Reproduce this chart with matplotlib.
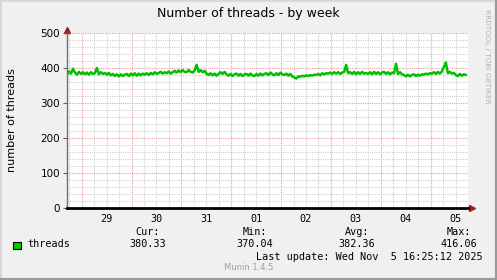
"""
Munin style weekly graph: number of threads
"""
import matplotlib
matplotlib.use("Agg")
import matplotlib.pyplot as plt
from matplotlib.lines import Line2D
import numpy as np

# Series, one sample every ~58 minutes
# first sample at 28 Oct ~16:57 (days relative to 29 Oct 00:00)
START_DAY = -0.294
STEP_DAY = 0.04
threads = [
    382, 390, 384, 398, 387, 381, 389, 383, 388, 382,
    387, 381, 388, 383, 386, 400, 382, 388, 383, 386,
    381, 386, 379, 383, 377, 382, 376, 382, 377, 381,
    383, 377, 384, 379, 385, 378, 384, 379, 384, 381,
    385, 380, 386, 382, 388, 383, 386, 389, 384, 388,
    385, 390, 384, 388, 392, 387, 393, 388, 394, 389,
    388, 394, 389, 387, 393, 409, 389, 394, 388, 392,
    384, 380, 385, 379, 384, 378, 383, 388, 383, 389,
    382, 378, 383, 377, 382, 384, 378, 383, 377, 382,
    383, 378, 384, 379, 377, 383, 378, 384, 379, 383,
    385, 380, 387, 382, 379, 385, 380, 387, 382, 380,
    384, 378, 383, 376, 373, 370, 376, 375, 378, 376,
    379, 377, 380, 378, 381, 380, 383, 379, 385, 382,
    385, 384, 387, 383, 388, 384, 388, 383, 387, 389,
    409, 385, 388, 383, 389, 382, 388, 383, 389, 384,
    386, 383, 388, 382, 389, 383, 388, 382, 387, 389,
    383, 388, 382, 387, 385, 412, 383, 388, 382, 380,
    376, 381, 376, 380, 382, 377, 381, 378, 382, 381,
    384, 382, 385, 384, 388, 383, 389, 384, 390, 403,
    416, 385, 389, 384, 386, 380, 377, 383, 378, 382,
    380.33,
]
day_labels = ["29", "30", "31", "01", "02", "03", "04", "05"]
stat_names = ["Cur:", "Min:", "Avg:", "Max:"]
stat_values = ["380.33", "370.04", "382.36", "416.06"]
X_MIN, X_MAX = -0.294, 7.726
Y_MAX = 500

BG = "#f0f0f0"
GREEN = "#00c000"

times = START_DAY + STEP_DAY * np.arange(len(threads))

fig = plt.figure(figsize=(4.97, 2.80), dpi=100, facecolor=BG)
ax = fig.add_axes([67 / 497, 72 / 280, 401 / 497, 175 / 280])
ax.set_facecolor("white")

ax.plot(times, threads, color=GREEN, lw=1.8, zorder=3)

ax.set_xlim(X_MIN, X_MAX)
ax.set_ylim(0, Y_MAX)

# grid: gray minor, red major, both dotted
ax.set_yticks(range(0, Y_MAX + 1, 100))
ax.set_yticks(range(0, Y_MAX + 1, 20), minor=True)
ax.set_xticks(range(0, 8))
ax.set_xticks(np.arange(-0.25, 7.76, 0.25), minor=True)
ax.set_xticklabels([])
ax.grid(which="minor", color="#cfcfcf", lw=0.8, ls=(0, (1, 1)))
ax.grid(which="major", color="#e6a0a0", lw=0.8, ls=(0, (1, 1)))
ax.set_axisbelow(True)

ax.tick_params(axis="y", which="major", length=3, width=0.8, color="#606060",
               labelsize=7.5, pad=2)
ax.tick_params(axis="y", which="minor", length=0)
ax.tick_params(axis="x", which="both", length=0)

for side in ("top", "right"):
    ax.spines[side].set_visible(False)
ax.spines["left"].set_color("#707070")
ax.spines["left"].set_linewidth(1.0)
ax.spines["bottom"].set_color("black")
ax.spines["bottom"].set_linewidth(2.0)

# arrows at the ends of the axes
ax.plot([0], [1.02], marker="^", color="#a02020", ms=4,
        transform=ax.transAxes, clip_on=False)
ax.plot([1.01], [0], marker=">", color="#a02020", ms=4,
        transform=ax.transAxes, clip_on=False)

# day labels centred between midnights
for i, lab in enumerate(day_labels):
    ax.text(i + 0.5, -0.035, lab, transform=ax.get_xaxis_transform(),
            ha="center", va="top", family="DejaVu Sans Mono", fontsize=7.3)

ax.set_ylabel("number of threads", fontsize=8)
ax.yaxis.set_label_coords(-0.125, 0.5)

fig.text(0.5, 0.95, "Number of threads - by week", ha="center", va="center",
         fontsize=9)
fig.text(0.98, 0.80, "RRDTOOL / TOBI OETIKER", rotation=270,
         ha="center", va="center", fontsize=5.3, color="#b0b0b0")

# legend
fig.patches.append(plt.Rectangle((13 / 497, 1 - 249 / 280), 8 / 497, 7 / 280,
                                 facecolor="#00cc00", edgecolor="black",
                                 lw=0.8, transform=fig.transFigure))
mono = dict(family="DejaVu Sans Mono", fontsize=7.3)
fig.text(27 / 497, 1 - 244 / 280, "threads", ha="left", va="center", **mono)
col_right = [166, 273, 375, 477]
for name, val, right in zip(stat_names, stat_values, col_right):
    fig.text((right - 6) / 497, 1 - 232 / 280, name, ha="right", va="center",
             **mono)
    fig.text(right / 497, 1 - 244 / 280, val, ha="right", va="center", **mono)
fig.text(483 / 497, 1 - 257 / 280, "Last update: Wed Nov  5 16:25:12 2025",
         ha="right", va="center", **mono)
fig.text(249 / 497, 1 - 268 / 280, "Munin 1.4.5", ha="center", va="center",
         fontsize=6, color="#a0a0a0")

# 3d-ish frame around the picture
frame = [((0, 0), (0, 1), "#d8d8d8"), ((0, 1), (1, 1), "#d8d8d8"),
         ((1, 1), (0, 1), "#9a9a9a"), ((0, 1), (0, 0), "#9a9a9a")]
for xs, ys, col in frame:
    fig.add_artist(Line2D(xs, ys, color=col, lw=3, transform=fig.transFigure))

fig.savefig("out.png", dpi=100, facecolor=BG)
